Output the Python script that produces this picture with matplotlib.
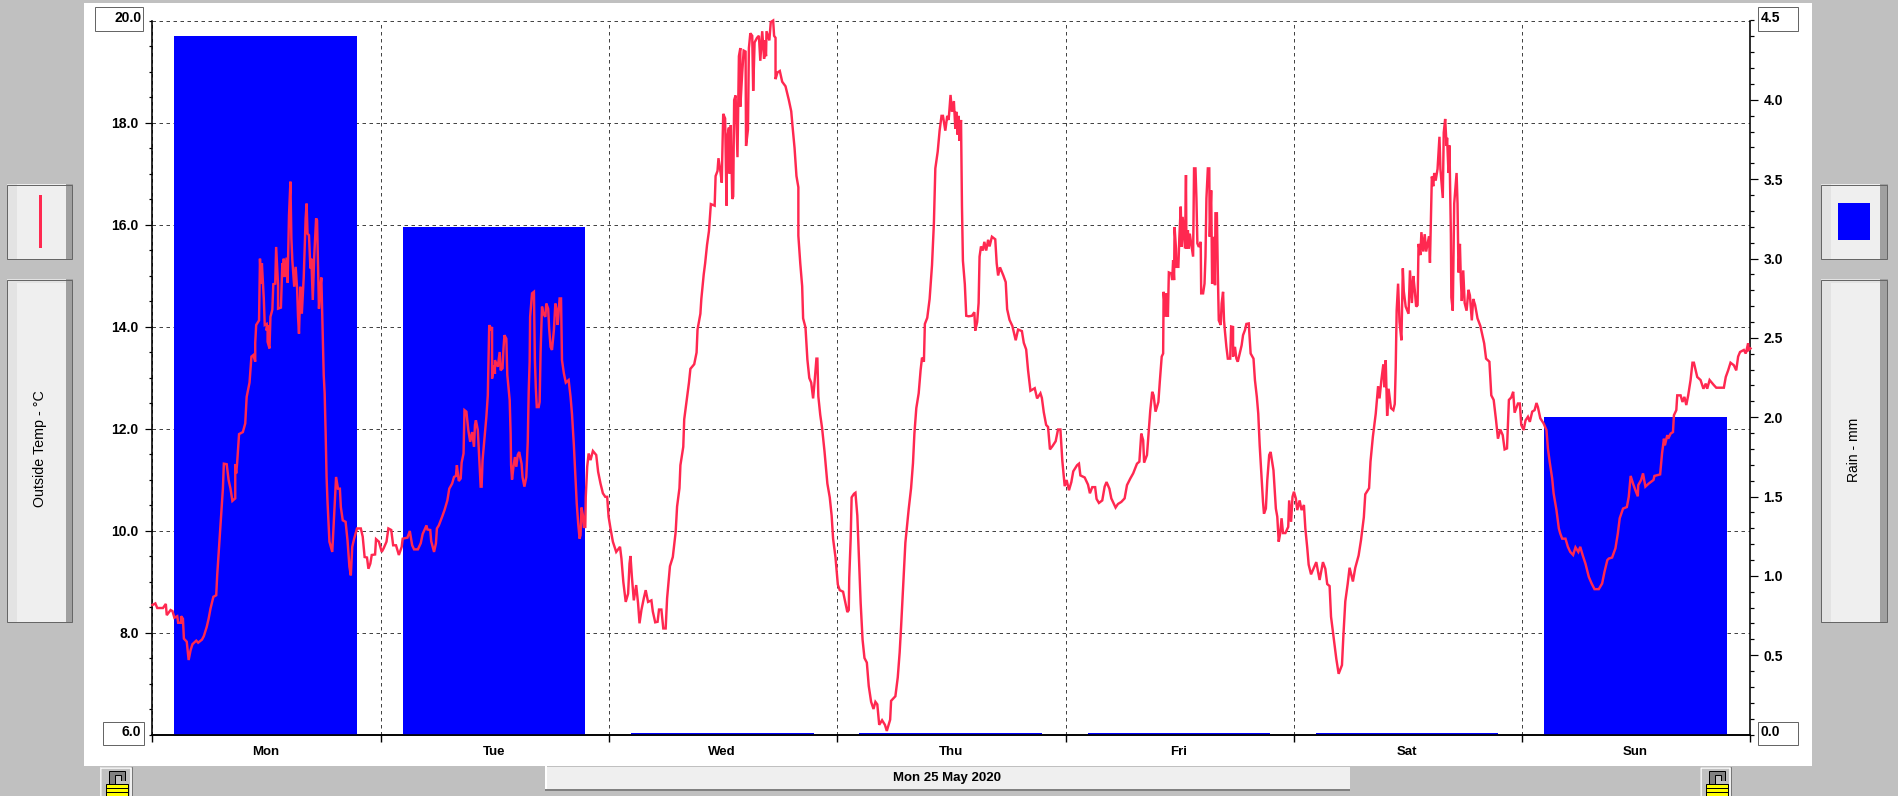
import matplotlib
matplotlib.use("Agg")
import matplotlib.pyplot as plt
from matplotlib.patches import Rectangle
from matplotlib.ticker import MultipleLocator, FixedLocator, FixedFormatter

W, H = 1899, 796
plt.rcParams['font.family'] = ['Liberation Sans', 'DejaVu Sans']
plt.rcParams['font.weight'] = 'bold'

days = ["Mon", "Tue", "Wed", "Thu", "Fri", "Sat", "Sun"]
rain_mm = [4.4, 3.2, 0.01, 0.01, 0.01, 0.01, 2.0]
date_label = "Mon 25 May 2020"
temp_ticks = [8, 10, 12, 14, 16, 18]
rain_ticks = [0.5, 1.0, 1.5, 2.0, 2.5, 3.0, 3.5, 4.0]

# (hours since Monday 00:00, outside temperature in deg C)
temp_mon = [(0.0,8.54),(0.3,8.57),(0.5,8.48),(1.1,8.48),(1.4,8.56),(1.5,8.34),(1.9,8.44),(2.1,8.42),(2.3,8.29),(2.6,8.32),(2.7,8.19),(3.0,8.19),(3.0,8.32),(3.2,8.27),(3.3,7.88),(3.6,7.82),(3.8,7.46),(4.0,7.65),(4.2,7.77),(4.6,7.84),(4.8,7.80),(5.2,7.86),(5.4,7.93),(5.7,8.11),(5.9,8.27),(6.1,8.47),(6.4,8.70),(6.7,8.73),(6.8,9.12),(7.0,9.68),(7.2,10.27),(7.4,10.82),(7.5,11.31),(7.8,11.30),(8.0,10.99),(8.2,10.82),(8.4,10.58),(8.7,10.63),(8.7,11.30),(8.8,11.12),(8.9,11.33),(9.1,11.89),(9.5,11.93),(9.75,12.10),(9.9,12.62),(10.2,12.90),(10.4,13.41),(10.6,13.44),(10.8,13.31),(10.8,13.68),(10.9,14.03),(11.2,14.12),(11.3,15.33),(11.4,14.84),(11.5,15.24),(11.7,14.55),(11.8,14.03),(12.0,14.05),(12.0,13.92),(12.1,14.03),(12.1,13.70),(12.3,13.57),(12.4,14.19),(12.6,14.33),(12.7,14.83),(12.9,14.84),(13.0,15.56),(13.2,14.81),(13.2,14.35),(13.5,14.37),(13.65,15.24),(13.7,14.97),(13.8,15.33),(13.9,14.97),(14.1,15.35),(14.2,14.86),(14.35,16.18),(14.5,16.84),(14.6,15.73),(14.7,15.30),(14.9,14.78),(15.05,15.17),(15.2,14.75),(15.3,14.19),(15.4,13.86),(15.55,14.78),(15.7,14.25),(15.9,14.97),(16.1,16.12),(16.2,16.41),(16.3,15.82),(16.45,15.79),(16.6,15.14),(16.7,15.33),(16.85,14.52),(17.0,15.37),(17.2,16.12),(17.3,16.08),(17.5,14.35),(17.65,14.78),(17.75,14.96),(17.9,13.80),(18.0,13.05),(18.1,12.69),(18.2,11.93),(18.3,11.05),(18.4,10.56),(18.6,9.78),(18.9,9.58),(19.1,10.33),(19.3,11.05),(19.5,10.82),(19.7,10.82),(19.8,10.46),(20.0,10.20),(20.3,10.17),(20.5,9.81),(20.7,9.29),(20.85,9.12),(21.0,9.68),(21.2,9.84),(21.5,10.04),(21.9,10.04),(22.1,9.88),(22.3,9.48),(22.55,9.47),(22.7,9.25),(22.9,9.35),(23.05,9.52),(23.4,9.53),(23.5,9.83),(23.8,9.78)]
temp_tue = [(24.1,9.58),(24.3,9.65),(24.6,9.78),(24.8,10.04),(25.1,10.01),(25.3,9.71),(25.6,9.71),(25.9,9.52),(26.2,9.68),(26.3,9.84),(26.8,9.86),(27.05,9.99),(27.3,9.71),(27.5,9.63),(27.9,9.63),(28.2,9.75),(28.4,9.93),(28.8,10.10),(28.9,10.02),(29.2,10.01),(29.3,9.79),(29.6,9.58),(29.8,9.75),(29.9,10.04),(30.1,10.10),(30.45,10.27),(30.7,10.40),(31.0,10.59),(31.2,10.82),(31.5,10.92),(31.7,11.05),(31.9,11.07),(32.0,11.28),(32.2,10.97),(32.4,11.02),(32.5,11.33),(32.7,11.51),(32.8,12.36),(33.0,12.33),(33.2,11.97),(33.4,11.74),(33.6,11.93),(33.8,11.64),(33.9,12.07),(34.0,12.16),(34.2,11.97),(34.4,11.25),(34.5,10.86),(34.6,10.86),(34.7,11.38),(34.9,11.80),(35.1,12.23),(35.25,12.65),(35.4,14.03),(35.5,13.93),(35.7,13.99),(35.7,12.98),(35.9,13.24),(36.0,13.07),(36.0,13.34),(36.3,13.21),(36.5,13.50),(36.6,13.14),(36.8,13.18),(36.9,13.57),(37.0,13.83),(37.2,13.76),(37.3,13.05),(37.45,12.75),(37.55,12.56),(37.65,11.90),(37.7,11.28),(37.8,11.00),(37.95,11.25),(38.1,11.44),(38.25,11.25),(38.4,11.48),(38.55,11.54),(38.8,11.31),(38.9,11.05),(39.1,10.86),(39.3,11.05),(39.45,11.74),(39.55,12.72),(39.65,13.31),(39.7,14.19),(39.9,14.65),(40.1,14.68),(40.2,13.34),(40.3,12.78),(40.4,12.42),(40.6,12.42),(40.7,12.52),(40.8,13.50),(40.9,14.06),(40.95,14.39),(41.1,14.25),(41.3,14.19),(41.4,14.45),(41.6,14.35),(41.7,13.96),(41.85,13.60),(42.0,13.54),(42.2,13.93),(42.35,14.45),(42.5,14.32),(42.6,14.03),(42.8,14.55),(42.95,14.55),(43.05,13.34),(43.25,13.08),(43.45,12.90),(43.75,12.95),(43.95,12.62),(44.1,12.29),(44.3,11.67),(44.45,11.12),(44.6,10.53),(44.75,10.14),(44.9,9.84),(45.0,9.91),(45.1,10.45),(45.25,10.30),(45.35,10.07),(45.5,10.07),(45.55,10.66),(45.7,11.25),(45.85,11.51),(46.05,11.38),(46.3,11.56),(46.65,11.48),(46.85,11.15),(47.1,10.92),(47.35,10.73),(47.6,10.66),(47.8,10.66)]
temp_wed = [(47.95,10.27),(48.15,10.04),(48.4,9.78),(48.75,9.58),(49.15,9.68),(49.3,9.45),(49.5,8.99),(49.75,8.60),(50.0,8.76),(50.15,9.35),(50.25,9.50),(50.4,9.09),(50.6,8.63),(50.85,8.93),(51.05,8.57),(51.2,8.18),(51.4,8.44),(51.65,8.67),(51.85,8.83),(52.1,8.60),(52.45,8.63),(52.6,8.41),(52.85,8.20),(53.1,8.21),(53.25,8.45),(53.5,8.45),(53.7,8.08),(53.95,8.08),(54.1,8.67),(54.4,9.30),(54.7,9.48),(55.0,9.97),(55.15,10.47),(55.4,10.83),(55.5,11.28),(55.8,11.64),(55.9,12.18),(56.15,12.54),(56.4,12.90),(56.55,13.17),(56.95,13.26),(57.2,13.49),(57.3,13.94),(57.6,14.25),(57.7,14.54),(57.95,15.02),(58.1,15.24),(58.3,15.60),(58.5,15.87),(58.7,16.40),(59.1,16.37),(59.2,16.95),(59.4,17.05),(59.5,17.30),(59.7,17.05),(59.85,16.82),(59.9,17.32),(60.0,18.17),(60.2,18.08),(60.35,16.37),(60.4,17.68),(60.6,17.90),(60.65,17.00),(60.8,17.95),(60.95,16.50),(61.05,16.55),(61.15,18.44),(61.3,18.53),(61.5,17.32),(61.65,19.30),(61.8,19.46),(61.8,18.31),(62.0,18.98),(62.15,19.41),(62.35,19.39),(62.4,17.54),(62.6,17.86),(62.7,19.46),(62.85,19.75),(63.05,19.70),(63.15,18.62),(63.3,19.57),(63.55,19.66),(63.75,19.70),(63.9,19.21),(64.1,19.79),(64.3,19.25),(64.35,19.61),(64.5,19.30),(64.55,19.79),(64.85,19.61),(65.0,19.97),(65.25,20.0),(65.35,19.70),(65.5,19.66),(65.5,18.85),(65.7,18.98),(65.95,19.01),(66.2,18.80),(66.55,18.71),(66.9,18.44),(67.15,18.22),(67.3,17.90),(67.5,17.50),(67.7,16.95),(67.9,16.73),(67.9,15.78),(68.1,15.24),(68.3,14.79),(68.4,14.16),(68.65,13.98),(68.85,13.35),(69.05,12.99),(69.25,12.90),(69.45,12.59),(69.6,12.90),(69.8,13.37),(69.9,13.37),(70.0,12.63),(70.2,12.27),(70.4,12.0),(70.65,11.55),(70.95,10.92),(71.2,10.65),(71.4,10.29),(71.55,9.84),(71.8,9.48)]
temp_thu = [(72.05,8.94),(72.25,8.83),(72.6,8.80),(72.85,8.58),(73.05,8.40),(73.2,8.44),(73.25,9.07),(73.4,9.84),(73.5,10.65),(73.75,10.72),(73.9,10.74),(74.1,10.29),(74.25,9.57),(74.45,8.58),(74.65,7.86),(74.85,7.50),(75.1,7.41),(75.3,6.95),(75.55,6.64),(75.8,6.50),(76.0,6.64),(76.2,6.59),(76.4,6.19),(76.7,6.28),(77.0,6.19),(77.2,6.07),(77.55,6.29),(77.65,6.66),(78.1,6.75),(78.35,7.12),(78.55,7.61),(78.7,8.11),(78.9,8.85),(79.15,9.76),(79.5,10.42),(79.75,10.83),(79.95,11.32),(80.1,11.90),(80.3,12.40),(80.55,12.69),(80.75,13.14),(80.9,13.39),(81.1,13.31),(81.2,14.05),(81.45,14.17),(81.7,14.54),(81.95,15.20),(82.15,16.03),(82.3,17.10),(82.55,17.43),(82.75,17.84),(82.95,18.13),(83.1,18.13),(83.35,17.84),(83.55,18.13),(83.7,18.05),(83.9,18.54),(84.05,18.21),(84.25,18.42),(84.4,17.88),(84.5,18.21),(84.65,17.76),(84.75,18.13),(84.85,17.64),(85.0,18.05),(85.1,16.36),(85.2,15.29),(85.4,14.83),(85.55,14.21),(85.8,14.20),(86.15,14.21),(86.4,14.28),(86.5,13.92),(86.7,14.09),(86.85,14.46),(86.95,15.37),(87.1,15.57),(87.3,15.49),(87.45,15.66),(87.65,15.49),(87.85,15.70),(88.0,15.57),(88.25,15.76),(88.6,15.71),(88.75,15.24),(88.9,15.0),(89.1,15.16),(89.45,15.0),(89.7,14.87),(89.85,14.34),(90.1,14.13),(90.4,14.01),(90.75,13.73),(91.0,13.94),(91.4,13.91),(91.6,13.68),(91.85,13.55),(92.05,13.14),(92.3,12.74),(92.75,12.79),(93.0,12.59),(93.35,12.69),(93.5,12.60),(93.7,12.32),(93.95,12.07),(94.15,12.03),(94.35,11.59),(94.6,11.65),(94.95,11.75),(95.2,11.98),(95.45,11.98),(95.65,11.37),(95.9,10.87)]
temp_fri = [(96.1,10.99),(96.35,10.79),(96.6,10.95),(96.8,11.16),(97.2,11.28),(97.4,11.31),(97.55,11.08),(98.0,11.04),(98.35,10.90),(98.55,10.73),(98.8,10.85),(99.1,10.85),(99.25,10.62),(99.5,10.54),(99.85,10.59),(100.1,10.86),(100.3,10.95),(100.6,10.82),(100.8,10.63),(101.05,10.53),(101.25,10.45),(101.5,10.52),(101.85,10.56),(102.2,10.63),(102.45,10.89),(102.8,11.02),(103.1,11.12),(103.5,11.31),(103.75,11.35),(103.95,11.90),(104.15,11.77),(104.25,11.33),(104.55,11.48),(104.75,11.97),(104.9,12.36),(105.1,12.72),(105.25,12.65),(105.45,12.33),(105.75,12.52),(105.9,12.92),(106.1,13.41),(106.25,13.47),(106.3,14.68),(106.5,14.19),(106.6,14.65),(106.75,14.19),(106.85,15.06),(107.1,15.04),(107.2,14.91),(107.3,15.30),(107.4,14.91),(107.45,15.95),(107.6,15.53),(107.65,15.17),(107.85,15.17),(107.95,15.73),(108.1,16.35),(108.2,15.56),(108.3,16.15),(108.55,15.53),(108.65,16.97),(108.7,15.53),(108.85,15.89),(108.95,15.53),(109.05,15.82),(109.25,15.56),(109.4,15.37),(109.5,17.10),(109.65,17.10),(109.75,16.51),(109.85,15.63),(110.0,15.56),(110.2,15.66),(110.25,14.65),(110.45,14.65),(110.6,14.84),(110.7,15.37),(110.8,16.51),(110.95,17.10),(111.1,17.10),(111.15,15.76),(111.3,16.67),(111.4,14.84),(111.6,15.76),(111.7,14.81),(111.75,16.22),(111.9,16.22),(112.0,15.04),(112.1,14.12),(112.3,14.03),(112.4,14.45),(112.55,14.68),(112.65,14.12),(112.75,13.90),(112.9,13.60),(113.05,13.37),(113.3,13.37),(113.4,14.0),(113.6,13.99),(113.6,13.41),(113.8,13.60),(113.95,13.37),(114.1,13.31),(114.3,13.47),(114.5,13.63),(114.65,13.83),(114.85,13.93),(115.0,14.05),(115.25,14.06),(115.45,13.47),(115.75,13.37),(115.9,12.95),(116.1,12.62),(116.25,12.29),(116.4,11.67),(116.6,11.05),(116.75,10.56),(116.85,10.33),(117.05,10.43),(117.2,10.99),(117.4,11.48),(117.55,11.54),(117.85,11.18),(118.1,10.43),(118.25,10.27),(118.4,9.78),(118.55,9.94),(118.7,10.24),(118.85,9.95),(119.1,9.95),(119.4,10.07),(119.5,10.59),(119.7,10.17),(119.85,10.66)]
temp_sat = [(120.0,10.76),(120.2,10.63),(120.35,10.40),(120.6,10.59),(120.8,10.40),(121.05,10.50),(121.2,10.04),(121.4,9.66),(121.55,9.33),(121.8,9.14),(122.1,9.27),(122.35,9.38),(122.7,9.03),(122.85,9.18),(123.05,9.38),(123.3,9.25),(123.5,8.95),(123.75,8.91),(123.9,8.31),(124.2,7.87),(124.45,7.49),(124.7,7.19),(125.05,7.36),(125.2,7.94),(125.4,8.61),(125.65,8.95),(125.85,9.27),(126.2,9.0),(126.45,9.27),(126.8,9.51),(127.05,9.81),(127.35,10.26),(127.5,10.71),(127.9,10.83),(128.05,11.35),(128.3,11.84),(128.6,12.29),(128.85,12.83),(129.0,12.59),(129.2,12.96),(129.4,13.26),(129.5,12.81),(129.65,13.34),(129.8,12.25),(129.95,12.78),(130.2,12.40),(130.45,12.36),(130.6,12.48),(130.7,13.19),(130.8,14.31),(130.95,14.84),(131.1,14.09),(131.3,13.73),(131.45,15.14),(131.55,14.69),(131.75,14.39),(132.05,14.25),(132.2,15.10),(132.4,14.46),(132.55,14.99),(132.7,14.72),(132.85,14.39),(133.0,14.42),(133.1,15.62),(133.3,15.40),(133.4,15.85),(133.6,15.47),(133.75,15.81),(133.9,15.47),(134.2,15.77),(134.3,15.25),(134.5,16.94),(134.65,16.75),(134.75,17.01),(134.9,16.86),(135.1,17.09),(135.3,17.72),(135.4,17.09),(135.65,16.52),(135.75,17.80),(135.9,18.07),(136.05,17.54),(136.1,17.70),(136.25,17.01),(136.35,17.55),(136.5,15.81),(136.55,14.57),(136.7,14.31),(136.85,16.41),(136.95,16.64),(137.1,17.01),(137.2,16.41),(137.3,15.06),(137.45,15.62),(137.55,14.91),(137.65,14.50),(137.8,15.10),(137.95,14.46),(138.15,14.31),(138.35,14.72),(138.5,14.61),(138.7,14.12),(138.85,14.54),(139.05,14.42),(139.3,14.16),(139.6,14.01),(140.0,13.67),(140.2,13.37),(140.55,13.31),(140.75,12.65),(141.0,12.56),(141.25,12.16),(141.45,11.80),(141.7,11.98),(141.95,11.87),(142.15,11.59),(142.4,11.61),(142.6,12.56),(142.85,12.61),(143.05,12.72),(143.2,12.31),(143.55,12.49),(143.75,12.49)]
temp_sun = [(143.9,12.07),(144.15,11.97),(144.35,12.16),(144.6,12.23),(144.8,12.13),(145.05,12.33),(145.3,12.36),(145.5,12.50),(145.65,12.42),(145.9,12.20),(146.25,12.10),(146.55,11.97),(146.7,11.61),(146.9,11.33),(147.15,11.02),(147.3,10.73),(147.6,10.40),(147.85,10.04),(148.0,9.94),(148.2,9.84),(148.55,9.84),(148.8,9.68),(149.05,9.58),(149.35,9.52),(149.6,9.67),(149.9,9.58),(150.1,9.68),(150.35,9.52),(150.65,9.35),(151.0,9.09),(151.3,8.96),(151.6,8.85),(152.05,8.85),(152.4,8.96),(152.65,9.19),(152.95,9.42),(153.1,9.45),(153.45,9.47),(153.8,9.65),(154.05,9.94),(154.25,10.24),(154.6,10.43),(155.0,10.46),(155.2,10.66),(155.4,11.07),(155.65,10.92),(155.9,10.79),(156.15,10.67),(156.2,10.89),(156.5,10.99),(156.7,11.12),(156.95,10.86),(157.3,10.92),(157.8,10.99),(157.9,11.07),(158.5,11.10),(158.7,11.51),(158.9,11.80),(159.0,11.67),(159.25,11.87),(159.35,11.80),(159.6,11.90),(159.85,11.93),(159.95,12.26),(160.2,12.36),(160.3,12.65),(160.65,12.65),(160.85,12.52),(161.05,12.62),(161.25,12.46),(161.45,12.65),(161.7,12.95),(161.9,13.29),(162.05,13.29),(162.4,13.01),(162.75,12.95),(163.05,12.78),(163.3,12.88),(163.45,12.78),(163.7,12.95),(164.15,12.85),(164.4,12.80),(165.2,12.80),(165.4,13.01),(165.65,13.14),(165.9,13.29),(166.25,13.24),(166.5,13.14),(166.7,13.41),(166.9,13.50),(167.3,13.54),(167.5,13.47),(167.75,13.67),(167.8,13.54),(168.0,13.57)]

RED = "#FF2850"
BLUE = "#0000FF"
GRID = "#444444"
BG = "#C0C0C0"
px = 0.72  # one pixel in points at dpi 100

fig = plt.figure(figsize=(W / 100, H / 100), dpi=100, facecolor=BG)


def box(x0, y0, x1, y1, fc, ec="none", lw=0.0, z=1):
    r = Rectangle((x0 / W, 1 - y1 / H), (x1 - x0) / W, (y1 - y0) / H, transform=fig.transFigure,
                  facecolor=fc, edgecolor=ec, linewidth=lw, zorder=z, antialiased=True)
    fig.add_artist(r)
    return r


def button(x0, y0, x1, y1, left, right, top=None):
    box(x0, y0, x1, y1, "#EFEFEF", z=1)
    box(x0, y0, left, y1, "#E3E3E3", z=1)
    box(right, y0, x1, y1, "#A0A0A0", z=1)
    if top:
        box(left, y0, right, top, "#E3E3E3", z=1)
    box(x0 + 0.5, y0 + 0.5, x1 - 0.5, y1 - 0.5, "none", ec="#666666", lw=px, z=2)


def lock(x0):
    box(x0, 766, x0 + 32, 797, BG, z=2)
    box(x0 + 0.5, 766.5, x0 + 31.5, 798, "none", ec="#777777", lw=px, z=3)
    box(x0 + 1.5, 767.5, x0 + 30.5, 798, "none", ec="#FFFFFF", lw=1.5 * px, z=3)
    box(x0 + 9, 771, x0 + 25, 785, "#808080", ec="#000000", lw=px, z=3)
    box(x0 + 15, 775, x0 + 21, 785, BG, ec="#000000", lw=px, z=3)
    box(x0 + 21.5, 781, x0 + 26, 785, BG, z=3)
    box(x0 + 6, 784, x0 + 28, 798, "#FFFF00", ec="#000000", lw=px, z=4)
    for yy in (788, 792):
        box(x0 + 6, yy, x0 + 28, yy + 1, "#000000", z=5)


# White panel, side buttons, date bar and locks
box(84, 3, 1812, 766, "#FFFFFF", z=0)
button(7, 184, 73, 259, 17, 66)
button(7, 279, 73, 622, 17, 66, top=283)
button(1821, 184, 1888, 259, 1831, 1880)
button(1821, 279, 1888, 622, 1831, 1880, top=283)
box(39, 195, 42, 248, RED, z=3)
box(1838, 203, 1870, 240, BLUE, z=3)
box(545, 767, 1350, 791, "#EFEFEF", z=1)
box(545, 766, 547, 791, "#FFFFFF", z=2)
box(545, 789, 1350, 791, "#808080", z=2)
lock(100)
lock(1700)

fig.text(40 / W, 1 - 449 / H, "Outside Temp - °C", rotation=90, ha="center", va="center",
         fontsize=10.3, fontweight="normal", color="#000000", zorder=6)
fig.text(1854 / W, 1 - 450 / H, "Rain - mm", rotation=90, ha="center", va="center",
         fontsize=10, fontweight="normal", color="#000000", zorder=6)
fig.text(947 / W, 1 - 777.5 / H, date_label, ha="center", va="center", fontsize=9.5, zorder=6)

rect = [152.5 / W, 1 - 734.5 / H, 1598 / W, 714 / H]
day_mid = [11.9 + 24 * i for i in range(len(days))]

# Bottom layer: temperature axis with its grid
ax = fig.add_axes(rect, zorder=1, facecolor="#FFFFFF")
ax.set_xlim(0, 168)
ax.set_ylim(6, 20)
ax.xaxis.set_major_locator(MultipleLocator(24))
ax.xaxis.set_minor_locator(FixedLocator(day_mid))
ax.xaxis.set_major_formatter(FixedFormatter([""] * 8))
ax.xaxis.set_minor_formatter(FixedFormatter(days))
ax.yaxis.set_major_locator(FixedLocator(temp_ticks))
ax.yaxis.set_major_formatter(FixedFormatter([f"{v:.1f}" for v in temp_ticks]))
ax.yaxis.set_minor_locator(MultipleLocator(0.5))
ax.tick_params(axis="x", which="major", length=7 * px, width=1.4 * px, color="#000000")
ax.tick_params(axis="x", which="minor", length=0, pad=8, labelsize=9.5)
ax.tick_params(axis="y", which="major", length=7 * px, width=1.2 * px, pad=5, labelsize=10)
ax.tick_params(axis="y", which="minor", length=3.5 * px, width=1.2 * px)
ax.grid(True, which="major", color=GRID, linestyle=(0, (3.5, 3.5)), linewidth=px)
ax.axhline(20, color=GRID, linestyle=(0, (3.5, 3.5)), linewidth=px, clip_on=False)
ax.set_axisbelow(True)
for s in ("top", "right"):
    ax.spines[s].set_visible(False)
for s in ("left", "bottom"):
    ax.spines[s].set_linewidth(1.6 * px)

# Middle layer: rain bars on their own scale
ax_rain = ax.twinx()
ax_rain.set_zorder(2)
ax_rain.patch.set_visible(False)
ax_rain.set_ylim(0, 4.5)
ax_rain.bar(day_mid, rain_mm, width=19.2, color=BLUE, linewidth=0)
ax_rain.yaxis.set_major_locator(FixedLocator(rain_ticks))
ax_rain.yaxis.set_major_formatter(FixedFormatter([f"{v:.1f}" for v in rain_ticks]))
ax_rain.yaxis.set_minor_locator(MultipleLocator(0.1))
ax_rain.tick_params(axis="y", which="major", length=8 * px, width=1.2 * px, pad=3.5, labelsize=10)
ax_rain.tick_params(axis="y", which="minor", length=4 * px, width=1.2 * px)
for s in ("top", "left"):
    ax_rain.spines[s].set_visible(False)
ax_rain.spines["right"].set_linewidth(1.6 * px)
ax_rain.spines["bottom"].set_linewidth(1.6 * px)

# Top layer: temperature trace
ax_line = ax.twinx()
ax_line.set_zorder(3)
ax_line.patch.set_visible(False)
ax_line.set_ylim(6, 20)
ax_line.set_yticks([])
for s in ax_line.spines.values():
    s.set_visible(False)
trace = temp_mon + temp_tue + temp_wed + temp_thu + temp_fri + temp_sat + temp_sun
hours = [p[0] for p in trace]
temps = [p[1] for p in trace]
ax_line.plot(hours, temps, color=RED, linewidth=1.75, solid_joinstyle="miter", clip_on=False)

# Boxed end-of-axis labels
box(95.5, 7.5, 143.5, 30.5, "#FFFFFF", ec="#666666", lw=px, z=6)
box(103.5, 721.5, 143.5, 744.5, "#FFFFFF", ec="#666666", lw=px, z=6)
box(1758.5, 7.5, 1798.5, 30.5, "#FFFFFF", ec="#666666", lw=px, z=6)
box(1758.5, 721.5, 1798.5, 744.5, "#FFFFFF", ec="#666666", lw=px, z=6)
fig.text(141.5 / W, 1 - 17.5 / H, "20.0", ha="right", va="center", fontsize=10, zorder=7)
fig.text(141.5 / W, 1 - 731.5 / H, "6.0", ha="right", va="center", fontsize=10, zorder=7)
fig.text(1761 / W, 1 - 17.5 / H, "4.5", ha="left", va="center", fontsize=10, zorder=7)
fig.text(1761 / W, 1 - 731.5 / H, "0.0", ha="left", va="center", fontsize=10, zorder=7)

fig.savefig("out.png", dpi=100, facecolor=fig.get_facecolor())
